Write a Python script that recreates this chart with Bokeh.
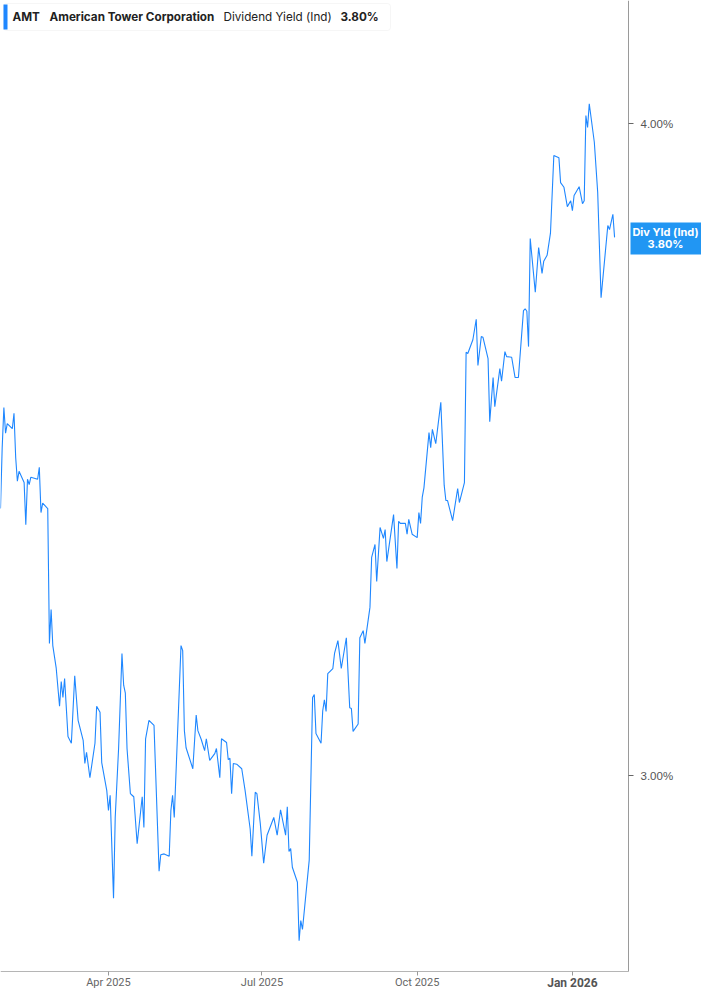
import pandas as pd
from bokeh.plotting import figure
from bokeh.models import (Range1d, FixedTicker, PrintfTickFormatter, Label,
                          BoxAnnotation, CustomJSTickFormatter, ColumnDataSource)
from bokeh.embed import file_html
from bokeh.resources import INLINE

# ---------------- data ----------------
dates = [
    "2025-01-27", "2025-01-28", "2025-01-29", "2025-01-30", "2025-01-31", "2025-02-03",
    "2025-02-04", "2025-02-05", "2025-02-06", "2025-02-07", "2025-02-10", "2025-02-11",
    "2025-02-12", "2025-02-13", "2025-02-14", "2025-02-18", "2025-02-19", "2025-02-20",
    "2025-02-21", "2025-02-24", "2025-02-25", "2025-02-26", "2025-02-27", "2025-03-01",
    "2025-03-03", "2025-03-04", "2025-03-05", "2025-03-06", "2025-03-08", "2025-03-10",
    "2025-03-12", "2025-03-14", "2025-03-17", "2025-03-18", "2025-03-19", "2025-03-21",
    "2025-03-24", "2025-03-25", "2025-03-27", "2025-03-28", "2025-03-31", "2025-04-01",
    "2025-04-02", "2025-04-04", "2025-04-05", "2025-04-07", "2025-04-09", "2025-04-10",
    "2025-04-11", "2025-04-12", "2025-04-14", "2025-04-15", "2025-04-16", "2025-04-18",
    "2025-04-21", "2025-04-22", "2025-04-23", "2025-04-25", "2025-04-28", "2025-05-01",
    "2025-05-02", "2025-05-04", "2025-05-07", "2025-05-08", "2025-05-09", "2025-05-10",
    "2025-05-14", "2025-05-15", "2025-05-16", "2025-05-17", "2025-05-21", "2025-05-23",
    "2025-05-24", "2025-05-26", "2025-05-28", "2025-05-29", "2025-05-31", "2025-06-03",
    "2025-06-04", "2025-06-06", "2025-06-07", "2025-06-10", "2025-06-11", "2025-06-12",
    "2025-06-13", "2025-06-14", "2025-06-16", "2025-06-19", "2025-06-21", "2025-06-24",
    "2025-06-25", "2025-06-27", "2025-06-28", "2025-06-30", "2025-07-02", "2025-07-04",
    "2025-07-08", "2025-07-10", "2025-07-12", "2025-07-15", "2025-07-16", "2025-07-17",
    "2025-07-18", "2025-07-19", "2025-07-22", "2025-07-23", "2025-07-24", "2025-07-25",
    "2025-07-29", "2025-07-31", "2025-08-01", "2025-08-02", "2025-08-05", "2025-08-06",
    "2025-08-07", "2025-08-08", "2025-08-09", "2025-08-12", "2025-08-13", "2025-08-15",
    "2025-08-17", "2025-08-20", "2025-08-22", "2025-08-23", "2025-08-24", "2025-08-27",
    "2025-08-28", "2025-08-30", "2025-08-31", "2025-09-03", "2025-09-04", "2025-09-06",
    "2025-09-07", "2025-09-09", "2025-09-11", "2025-09-12", "2025-09-13", "2025-09-17",
    "2025-09-19", "2025-09-20", "2025-09-21", "2025-09-24", "2025-09-25", "2025-09-26",
    "2025-09-28", "2025-10-01", "2025-10-02", "2025-10-03", "2025-10-04", "2025-10-05",
    "2025-10-08", "2025-10-09", "2025-10-10", "2025-10-12", "2025-10-15", "2025-10-17",
    "2025-10-18", "2025-10-19", "2025-10-22", "2025-10-25", "2025-10-26", "2025-10-29",
    "2025-10-30", "2025-10-31", "2025-11-03", "2025-11-05", "2025-11-06", "2025-11-08",
    "2025-11-09", "2025-11-12", "2025-11-13", "2025-11-15", "2025-11-16", "2025-11-19",
    "2025-11-20", "2025-11-22", "2025-11-23", "2025-11-26", "2025-11-28", "2025-11-30",
    "2025-12-03", "2025-12-04", "2025-12-05", "2025-12-06", "2025-12-07", "2025-12-10",
    "2025-12-12", "2025-12-14", "2025-12-15", "2025-12-17", "2025-12-19", "2025-12-21",
    "2025-12-24", "2025-12-25", "2025-12-27", "2025-12-29", "2025-12-31", "2026-01-01",
    "2026-01-02", "2026-01-05", "2026-01-07", "2026-01-08", "2026-01-09", "2026-01-10",
    "2026-01-11", "2026-01-14", "2026-01-16", "2026-01-18", "2026-01-22", "2026-01-23",
    "2026-01-25", "2026-01-26",
]
yield_pct = [
    3.375, 3.467, 3.529, 3.489, 3.504, 3.496,
    3.520, 3.452, 3.416, 3.431, 3.414, 3.351,
    3.419, 3.411, 3.422, 3.419, 3.437, 3.369,
    3.383, 3.375, 3.180, 3.228, 3.177, 3.146,
    3.093, 3.127, 3.105, 3.131, 3.052, 3.043,
    3.135, 3.074, 3.047, 3.016, 3.031, 2.997,
    3.043, 3.093, 3.085, 3.017, 2.980, 2.954,
    2.974, 2.842, 2.945, 3.036, 3.166, 3.122,
    3.111, 3.036, 2.976, 2.974, 2.972, 2.911,
    2.972, 2.932, 3.049, 3.074, 3.067, 2.876,
    2.897, 2.898, 2.895, 2.954, 2.974, 2.945,
    3.177, 3.170, 3.060, 3.037, 3.009, 3.081,
    3.060, 3.048, 3.033, 3.049, 3.020, 3.029,
    3.036, 2.997, 3.049, 3.044, 3.021, 3.023,
    2.976, 3.016, 3.015, 3.009, 2.980, 2.930,
    2.895, 2.978, 2.976, 2.937, 2.886, 2.922,
    2.945, 2.922, 2.955, 2.922, 2.959, 2.901,
    2.905, 2.881, 2.862, 2.789, 2.814, 2.803,
    2.890, 3.105, 3.109, 3.056, 3.043, 3.087,
    3.102, 3.086, 3.138, 3.145, 3.166, 3.184,
    3.145, 3.188, 3.091, 3.090, 3.059, 3.069,
    3.188, 3.198, 3.180, 3.231, 3.303, 3.322,
    3.268, 3.347, 3.331, 3.344, 3.297, 3.366,
    3.287, 3.356, 3.353, 3.353, 3.337, 3.359,
    3.337, 3.332, 3.369, 3.353, 3.392, 3.406,
    3.490, 3.467, 3.495, 3.473, 3.537, 3.410,
    3.387, 3.387, 3.357, 3.405, 3.384, 3.414,
    3.616, 3.614, 3.636, 3.669, 3.595, 3.641,
    3.640, 3.606, 3.507, 3.576, 3.530, 3.590,
    3.570, 3.617, 3.609, 3.608, 3.576, 3.576,
    3.683, 3.686, 3.682, 3.625, 3.802, 3.713,
    3.787, 3.744, 3.764, 3.774, 3.811, 3.944,
    3.940, 3.897, 3.889, 3.856, 3.866, 3.849,
    3.875, 3.890, 3.861, 3.866, 4.014, 3.993,
    4.035, 3.967, 3.880, 3.704, 3.824, 3.817,
    3.843, 3.804,
]
y_ticks = [3.0, 4.0]
x_tick_dates = ["2025-04-01", "2025-07-01", "2025-10-01", "2026-01-01"]
ticker_symbol = "AMT"
company = "American Tower Corporation"
metric = "Dividend Yield (Ind)"
last_value = "3.80%"
badge_title = "Div Yld (Ind)"

# ---------------- chart ----------------
BLUE = "#1f87ff"
W, H = 701, 989


def ms(s):
    return pd.Timestamp(s).value / 1e6


x_start, x_axis_end, x_end = "2025-01-27 00:00", "2026-02-03 06:14", "2026-03-18 12:43"
y_top, y_axis_bottom, y_bottom = 4.2231, 2.7514, 2.7297

src = ColumnDataSource(dict(date=pd.to_datetime(dates), val=yield_pct))

p = figure(width=W, height=H, output_backend="svg", toolbar_location=None,
           x_axis_type="datetime", y_axis_type="log", y_axis_location="right",
           x_range=Range1d(pd.Timestamp(x_start), pd.Timestamp(x_end)),
           y_range=Range1d(y_bottom, y_top),
           min_border_left=0, min_border_top=0, min_border_right=0, min_border_bottom=0)
p.outline_line_color = None
p.background_fill_color = "white"
p.border_fill_color = "white"
p.xgrid.visible = False
p.ygrid.visible = False

p.line("date", "val", source=src, line_color=BLUE, line_width=1.1)

# y axis (drawn at fixed position inside the canvas)
ya = p.yaxis[0]
ya.fixed_location = ms(x_axis_end)
ya.bounds = (y_axis_bottom, y_top)
ya.ticker = FixedTicker(ticks=y_ticks)
ya.formatter = PrintfTickFormatter(format="%.2f%%")
ya.axis_line_color = "#9a9a9a"
ya.major_tick_line_color = "#666666"
ya.major_tick_in = 0
ya.major_tick_out = 5
ya.minor_tick_line_color = None
ya.major_label_standoff = 7
ya.major_label_text_font = "Liberation Sans"
ya.major_label_text_font_size = "11.5px"
ya.major_label_text_color = "#555555"

# x axis
tick_ms = [ms(d) for d in x_tick_dates]
xa = p.xaxis[0]
xa.fixed_location = y_axis_bottom
xa.bounds = (ms(x_start), ms(x_axis_end))
xa.ticker = FixedTicker(ticks=tick_ms)
xa.formatter = CustomJSTickFormatter(code="""
const d = new Date(tick);
const m = ["Jan","Feb","Mar","Apr","May","Jun","Jul","Aug","Sep","Oct","Nov","Dec"][d.getUTCMonth()];
if (d.getUTCMonth() == 0) { return ""; }
return m + " " + d.getUTCFullYear();
""")
xa.axis_line_color = "#b5b5b5"
xa.major_tick_line_color = "#999999"
xa.major_tick_in = 0
xa.major_tick_out = 4
xa.minor_tick_line_color = None
xa.major_label_standoff = 0
xa.major_label_text_font = "Roboto"
xa.major_label_text_font_size = "11px"
xa.major_label_text_color = "#666666"

# bold year label
p.add_layout(Label(x=tick_ms[3], x_units="data", y=H - 975, y_units="screen",
                   text="Jan 2026", text_align="center", text_baseline="top",
                   text_font="Roboto", text_font_size="12px", text_font_style="bold",
                   text_color="#555555"))

# legend box top-left
p.add_layout(BoxAnnotation(left=3, right=390, top=H - 3, bottom=H - 30,
                           left_units="screen", right_units="screen",
                           top_units="screen", bottom_units="screen",
                           fill_color="white", fill_alpha=1.0,
                           line_color="#e0e0e0", line_width=1, border_radius=3))
p.add_layout(BoxAnnotation(left=3, right=7, top=H - 4, bottom=H - 29,
                           left_units="screen", right_units="screen",
                           top_units="screen", bottom_units="screen",
                           fill_color=BLUE, fill_alpha=1.0, line_color=None))
for txt, xx, bold in [(ticker_symbol, 12, True), (company, 49, True),
                      (metric, 223, False), (last_value, 340, True)]:
    p.add_layout(Label(x=xx, y=H - 16.5, x_units="screen", y_units="screen",
                       text=txt, text_baseline="middle", text_font="Inter",
                       text_font_size="11.7px", text_font_style="bold" if bold else "normal",
                       text_color="#222222"))

# value badge on right
p.add_layout(BoxAnnotation(left=630, right=W, top=H - 222, bottom=H - 254,
                           left_units="screen", right_units="screen",
                           top_units="screen", bottom_units="screen",
                           fill_color="#2196f3", fill_alpha=1.0, line_color=None))
p.add_layout(Label(x=665, y=H - 231, x_units="screen", y_units="screen",
                   text=badge_title, text_align="center", text_baseline="middle",
                   text_font="Inter", text_font_size="11px", text_font_style="bold",
                   text_color="white"))
p.add_layout(Label(x=665, y=H - 243, x_units="screen", y_units="screen",
                   text=last_value, text_align="center", text_baseline="middle",
                   text_font="Inter", text_font_size="11px", text_font_style="bold",
                   text_color="white"))

open("out.html", "w").write(file_html(p, INLINE))
